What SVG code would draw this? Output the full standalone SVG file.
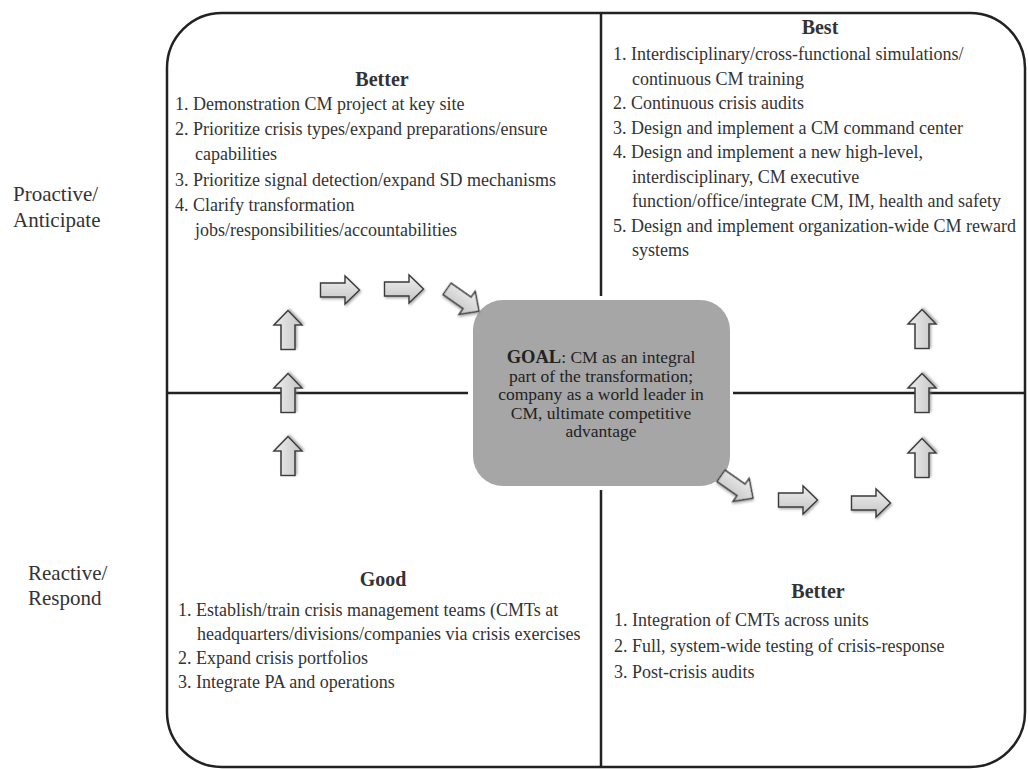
<svg xmlns="http://www.w3.org/2000/svg" width="1028" height="769" viewBox="0 0 1028 769">
  <style>
    .frame { fill: none; stroke: #222; stroke-width: 2.5; }
    .divider { stroke: #222; stroke-width: 2.5; }
    .side { font-family: "Liberation Serif", "Times New Roman", serif; font-size: 21px; fill: #333; }
    .head { font-family: "Liberation Serif", "Times New Roman", serif; font-size: 20px; font-weight: bold; fill: #333; text-anchor: middle; }
    .item { font-family: "Liberation Serif", "Times New Roman", serif; font-size: 18px; fill: #333; }
    .goal { font-family: "Liberation Serif", "Times New Roman", serif; font-size: 17.5px; fill: #222; text-anchor: middle; }
    .goal-box { fill: #a6a6a6; }
    .blk { fill: url(#arrowFill); stroke: #3a3a3a; stroke-width: 1.4; stroke-linejoin: miter; filter: url(#shadow); }
  </style>
  <defs>
    <linearGradient id="arrowFill" x1="0" y1="0" x2="0" y2="1">
      <stop offset="0" stop-color="#eeeeee"/>
      <stop offset="1" stop-color="#c4c4c4"/>
    </linearGradient>
    <filter id="shadow" x="-30%" y="-30%" width="160%" height="160%">
      <feDropShadow dx="1.2" dy="1.5" stdDeviation="1" flood-color="#777" flood-opacity="0.6"/>
    </filter>
    <!-- block arrow pointing right, centred on the origin -->
    <path id="blockArrow" d="M-19.5,-7 H5 V-14 L19.5,0 L5,14 V7 H-19.5 Z"/>
  </defs>

  <rect width="1028" height="769" fill="#ffffff"/>

  <!-- outer rounded frame -->
  <g id="frame">
    <rect class="frame" x="167" y="13" width="858" height="754" rx="55" ry="55"/>
  </g>

  <!-- quadrant dividers, interrupted around the goal box -->
  <g id="dividers">
    <line class="divider" x1="601" y1="13" x2="601" y2="296"/>
    <line class="divider" x1="601" y1="490" x2="601" y2="767"/>
    <line class="divider" x1="167" y1="393" x2="468" y2="393"/>
    <line class="divider" x1="733" y1="393" x2="1025" y2="393"/>
  </g>

  <!-- row labels -->
  <g id="label-proactive">
    <text class="side" x="13" y="201">Proactive/</text>
    <text class="side" x="13" y="227">Anticipate</text>
  </g>
  <g id="label-reactive">
    <text class="side" x="28" y="580">Reactive/</text>
    <text class="side" x="28" y="605">Respond</text>
  </g>

  <!-- top-left quadrant -->
  <g id="quadrant-better-proactive">
    <text class="head" x="382" y="86">Better</text>
    <text class="item" x="175" y="110">1. Demonstration CM project at key site</text>
    <text class="item" x="175" y="135">2. Prioritize crisis types/expand preparations/ensure</text>
    <text class="item" x="195" y="160">capabilities</text>
    <text class="item" x="175" y="186">3. Prioritize signal detection/expand SD mechanisms</text>
    <text class="item" x="175" y="211">4. Clarify transformation</text>
    <text class="item" x="195" y="236">jobs/responsibilities/accountabilities</text>
  </g>

  <!-- top-right quadrant -->
  <g id="quadrant-best">
    <text class="head" x="820" y="34">Best</text>
    <text class="item" x="613" y="60">1. Interdisciplinary/cross-functional simulations/</text>
    <text class="item" x="632" y="84.5">continuous CM training</text>
    <text class="item" x="613" y="109">2. Continuous crisis audits</text>
    <text class="item" x="613" y="133.5">3. Design and implement a CM command center</text>
    <text class="item" x="613" y="158">4. Design and implement a new high-level,</text>
    <text class="item" x="632" y="182.5">interdisciplinary, CM executive</text>
    <text class="item" x="632" y="207">function/office/integrate CM, IM, health and safety</text>
    <text class="item" x="613" y="231.5">5. Design and implement organization-wide CM reward</text>
    <text class="item" x="632" y="256">systems</text>
  </g>

  <!-- bottom-left quadrant -->
  <g id="quadrant-good">
    <text class="head" x="383" y="586">Good</text>
    <text class="item" x="178" y="616">1. Establish/train crisis management teams (CMTs at</text>
    <text class="item" x="197" y="640">headquarters/divisions/companies via crisis exercises</text>
    <text class="item" x="178" y="664">2. Expand crisis portfolios</text>
    <text class="item" x="178" y="688">3. Integrate PA and operations</text>
  </g>

  <!-- bottom-right quadrant -->
  <g id="quadrant-better-reactive">
    <text class="head" x="818" y="598">Better</text>
    <text class="item" x="614" y="626">1. Integration of CMTs across units</text>
    <text class="item" x="614" y="652">2. Full, system-wide testing of crisis-response</text>
    <text class="item" x="614" y="678">3. Post-crisis audits</text>
  </g>

  <!-- central goal -->
  <g id="goal">
    <rect class="goal-box" x="473" y="300" width="257" height="186" rx="30" ry="30"/>
    <text class="goal" x="601" y="363"><tspan font-weight="bold" font-size="18.5px">GOAL</tspan>:  CM as an integral</text>
    <text class="goal" x="601" y="382">part of the transformation;</text>
    <text class="goal" x="601" y="400">company as a world leader in</text>
    <text class="goal" x="601" y="419">CM, ultimate competitive</text>
    <text class="goal" x="601" y="437">advantage</text>
  </g>

  <!-- progression arrows -->
  <g id="connectors">
    <use href="#blockArrow" class="blk" transform="translate(288,456) rotate(-90)"/>
    <use href="#blockArrow" class="blk" transform="translate(288,393) rotate(-90)"/>
    <use href="#blockArrow" class="blk" transform="translate(288,330) rotate(-90)"/>
    <use href="#blockArrow" class="blk" transform="translate(340,290)"/>
    <use href="#blockArrow" class="blk" transform="translate(404,289)"/>
    <use href="#blockArrow" class="blk" transform="translate(463,300) rotate(35)"/>
    <use href="#blockArrow" class="blk" transform="translate(737,487) rotate(35)"/>
    <use href="#blockArrow" class="blk" transform="translate(798,500)"/>
    <use href="#blockArrow" class="blk" transform="translate(871,503)"/>
    <use href="#blockArrow" class="blk" transform="translate(922,458) rotate(-90)"/>
    <use href="#blockArrow" class="blk" transform="translate(922,393) rotate(-90)"/>
    <use href="#blockArrow" class="blk" transform="translate(922,329) rotate(-90)"/>
  </g>
</svg>
